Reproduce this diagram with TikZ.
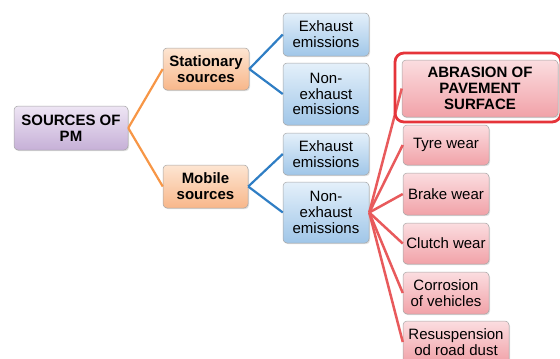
\documentclass[tikz,border=0pt]{standalone}
\usepackage{fontspec}
\setmainfont{Liberation Sans}
\usetikzlibrary{shadows}
\definecolor{pTop}{HTML}{EEE5F4}
\definecolor{pBot}{HTML}{C6B0D7}
\definecolor{oTop}{HTML}{FDE5D2}
\definecolor{oBot}{HTML}{F8B78A}
\definecolor{bTop}{HTML}{E4F0FA}
\definecolor{bBot}{HTML}{A0C6E8}
\definecolor{rTop}{HTML}{FBDDE0}
\definecolor{rBot}{HTML}{F1A2A8}
\definecolor{oLine}{HTML}{F79646}
\definecolor{bLine}{HTML}{2F7EC4}
\definecolor{rLine}{HTML}{E85A5C}
\definecolor{rOut}{HTML}{E5343A}
\definecolor{edge}{HTML}{A6A6A6}
\tikzset{
  box/.style={draw=edge, line width=0.5pt, rounded corners=4pt, align=center,
    inner sep=0pt, font=\fontsize{15}{15.8}\selectfont,
    shading=axis, shading angle=0,
    drop shadow={opacity=0.25, shadow xshift=1pt, shadow yshift=-1.2pt}},
  bold/.style={font=\fontsize{15}{15.8}\selectfont\bfseries},
  pbox/.style={box, top color=pTop, bottom color=pBot},
  obox/.style={box, top color=oTop, bottom color=oBot},
  bbox/.style={box, top color=bTop, bottom color=bBot},
  rbox/.style={box, top color=rTop, bottom color=rBot},
  oconn/.style={draw=oLine, line width=2.2pt},
  bconn/.style={draw=bLine, line width=2.2pt},
  rconn/.style={draw=rLine, line width=2.5pt},
}
\begin{document}
\begin{tikzpicture}[x=1pt,y=-1pt]
\useasboundingbox (0,0) rectangle (560,359);
% nodes
\node[pbox, bold, minimum width=114pt, minimum height=44pt] (src) at (71,128) {SOURCES OF\\PM};
\node[obox, bold, minimum width=86pt, minimum height=42pt] (stat) at (206,69) {Stationary\\sources};
\node[obox, bold, minimum width=85pt, minimum height=43pt] (mob) at (205.5,186.5) {Mobile\\sources};
\node[bbox, minimum width=86pt, minimum height=43pt] (ex1) at (326,34.5) {Exhaust\\emissions};
\node[bbox, minimum width=86pt, minimum height=62pt] (nx1) at (326,94) {Non-\\exhaust\\emissions};
\node[bbox, minimum width=86pt, minimum height=42pt] (ex2) at (326,154) {Exhaust\\emissions};
\node[bbox, minimum width=86pt, minimum height=61pt] (nx2) at (326,212.5) {Non-\\exhaust\\emissions};
\node[rbox, minimum width=86pt, minimum height=40pt] (tyre) at (446,145) {Tyre wear};
\node[rbox, minimum width=86pt, minimum height=42pt] (brake) at (446,194) {Brake wear};
\node[rbox, minimum width=86pt, minimum height=41pt] (clutch) at (446,243.5) {Clutch wear};
\node[rbox, minimum width=86pt, minimum height=42pt] (corr) at (446,293) {Corrosion\\of vehicles};
\node[rbox, minimum width=106pt, minimum height=42pt] (resus) at (456,342) {Resuspension\\od road dust};
% connectors
\draw[oconn] (src.east) -- (stat.west);
\draw[oconn] (src.east) -- (mob.west);
\draw[bconn] (stat.east) -- (ex1.west);
\draw[bconn] (stat.east) -- (nx1.west);
\draw[bconn] (mob.east) -- (ex2.west);
\draw[bconn] (mob.east) -- (nx2.west);
\node[rbox, bold, minimum width=156pt, minimum height=57pt] (abr) at (480,88.5) {ABRASION OF\\PAVEMENT\\SURFACE};
\draw[rconn] (nx2.east) -- (abr.west);
\draw[rconn] (nx2.east) -- (tyre.west);
\draw[rconn] (nx2.east) -- (brake.west);
\draw[rconn] (nx2.east) -- (clutch.west);
\draw[rconn] (nx2.east) -- (corr.west);
\draw[rconn] (nx2.east) -- (resus.west);
\node[draw=rOut, line width=2.8pt, rounded corners=9pt, minimum width=166pt, minimum height=69pt, inner sep=0pt] (abrOut) at (478,87.5) {};
\end{tikzpicture}
\end{document}
